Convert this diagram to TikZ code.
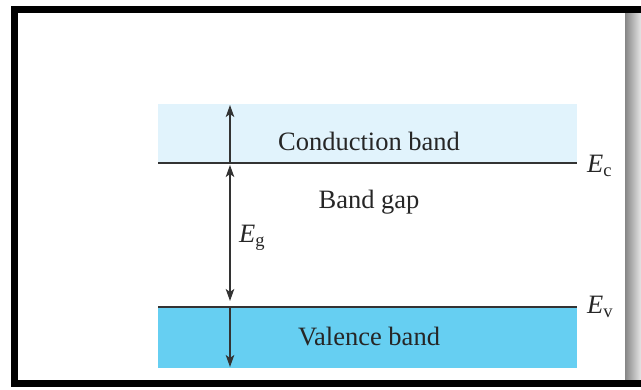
\documentclass[tikz,border=0pt]{standalone}
\usepackage{fontspec}
\setmainfont{Liberation Serif}
\usepackage{tikz}
\usetikzlibrary{
  arrows.meta,positioning,calc,backgrounds
}
\definecolor{cbandblue}{HTML}{E1F3FC}
\definecolor{vbandblue}{HTML}{66CFF2}
\definecolor{levelgray}{HTML}{333333}
\newcommand{\lvl}[1]{{\itshape E}\textsubscript{#1}}

\begin{document}
\begin{tikzpicture}[x=1pt,y=-1pt,
    >={Stealth[length=12pt,width=8.5pt,inset=3pt]},
    bandtext/.style={font=\fontsize{26.5}{30}\selectfont,text=black!85,inner sep=0pt},
    level/.style={levelgray,line width=1.8pt},
    gaparrow/.style={levelgray,line width=1.5pt,->,shorten >=1pt}]
      \useasboundingbox (0,0) rectangle (641,389);
      % page edge and frame
      \shade[left color=gray!95,right color=gray!20] (625,13) rectangle (641,380);
      \draw[line width=7pt] (641,9.5) -- (14.5,9.5) -- (14.5,383.5) -- (641,383.5);
      % bands
      \fill[cbandblue] (158,104) rectangle (577,163);
      \fill[vbandblue] (158,307) rectangle (577,368);
      \draw[level] (158,163) -- (577,163);
      \draw[level] (158,307) -- (577,307);
      \coordinate (cbtop) at (230,104);
      \coordinate (ec) at (230,163);
      \coordinate (ev) at (230,307);
      \coordinate (vbbot) at (230,368);
      \draw[gaparrow] (ec) -- (cbtop);
      \draw[gaparrow,<->,shorten <=2pt,shorten >=6pt] (ec) -- (ev);
      \draw[gaparrow] (ev) -- (vbbot);
      % labels
      \node[bandtext] (cond) at (369,141) {Conduction band};
      \node[bandtext] (gap) at (369,202) {Band gap};
      \node[bandtext] (val) at (369,337) {Valence band};
      \node[bandtext,anchor=west] (eg) at (239,238) {\lvl{g}};
      \node[bandtext,anchor=west] (eclab) at (587,166) {\lvl{c}};
      \node[bandtext,anchor=west] (evlab) at (587,307) {\lvl{v}};
    \end{tikzpicture}
\end{document}
